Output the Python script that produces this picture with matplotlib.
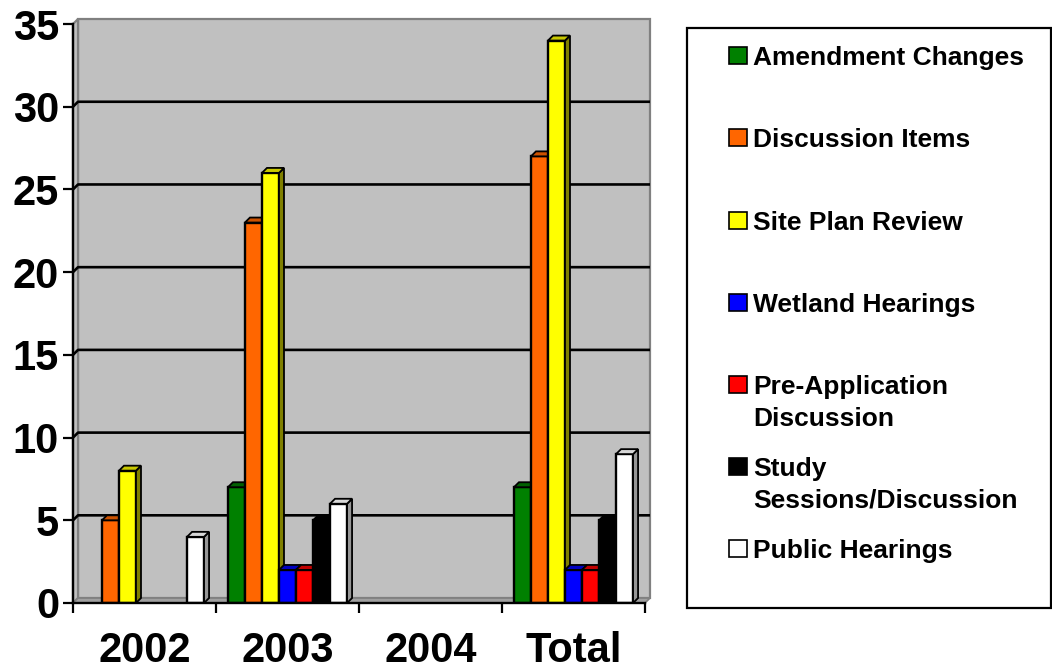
import matplotlib
matplotlib.use("Agg")
import matplotlib.pyplot as plt
from matplotlib.patches import Polygon, Rectangle

plt.rcParams['font.family'] = ['Liberation Sans', 'DejaVu Sans']
plt.rcParams['font.weight'] = 'bold'

# data
categories = ['2002', '2003', '2004', 'Total']
series_names = ['Amendment Changes', 'Discussion Items', 'Site Plan Review',
                'Wetland Hearings', 'Pre-Application\nDiscussion',
                'Study\nSessions/Discussion', 'Public Hearings']
amendment = [0, 7, 0, 7]
discussion = [5, 23, 0, 27]
site_plan = [8, 26, 0, 34]
wetland = [0, 2, 0, 2]
pre_app = [0, 2, 0, 2]
study = [0, 5, 0, 5]
public = [4, 6, 0, 9]
values = [amendment, discussion, site_plan, wetland, pre_app, study, public]

# front, top, side colours for each series
front = ['#008000', '#FF6600', '#FFFF00', '#0000FF', '#FF0000', '#000000', '#FFFFFF']
top = ['#006000', '#CC5200', '#C8C800', '#0000C0', '#C00000', '#000000', '#D8D8D8']
side = ['#004000', '#993D00', '#808000', '#000080', '#800000', '#000000', '#969696']

W, H = 1052, 670
fig = plt.figure(figsize=(W / 100, H / 100), dpi=100)
ax = fig.add_axes([73 / W, 67 / H, 572 / W, 579 / H])
ax.set_xlim(-0.5, 3.5)
ax.set_ylim(0, 35)
ax.patch.set_visible(False)

dx, dy = 0.035, 0.3   # 3d depth in data units

# walls and floor
ax.add_patch(Polygon([(-0.5 + dx, dy), (3.5 + dx, dy), (3.5 + dx, 35 + dy), (-0.5 + dx, 35 + dy)],
                     closed=True, facecolor='#C0C0C0', edgecolor='#808080', lw=1.6,
                     zorder=0, clip_on=False))
ax.add_patch(Polygon([(-0.5, 0), (-0.5 + dx, dy), (-0.5 + dx, 35 + dy), (-0.5, 35)],
                     closed=True, facecolor='#C0C0C0', edgecolor='#808080', lw=1.6,
                     zorder=0, clip_on=False))
ax.add_patch(Polygon([(-0.5, 0), (3.5, 0), (3.5 + dx, dy), (-0.5 + dx, dy)],
                     closed=True, facecolor='#A0A0A0', edgecolor='#808080', lw=1.2,
                     zorder=0.5, clip_on=False))

# gridlines on the back and side wall
for v in range(5, 35, 5):
    ax.plot([-0.5, -0.5 + dx, 3.5 + dx], [v, v + dy, v + dy], color='black',
            lw=1.9, zorder=1, clip_on=False, solid_capstyle='butt')

# bars
w = 0.119
n = len(values)
for j, vals in enumerate(values):
    xs = [i + (j - (n - 1) / 2) * w for i in range(len(categories))]
    xs_nz = [x for x, v in zip(xs, vals) if v > 0]
    vs_nz = [v for v in vals if v > 0]
    ax.bar(xs_nz, vs_nz, width=w, color=front[j], edgecolor='black', lw=1.7,
           zorder=3 + j)
    for x, v in zip(xs_nz, vs_nz):
        x0, x1 = x - w / 2, x + w / 2
        ax.add_patch(Polygon([(x1, 0), (x1 + dx, dy), (x1 + dx, v + dy), (x1, v)],
                             closed=True, facecolor=side[j], edgecolor='black',
                             lw=1.3, zorder=3 + j + 0.5))
        ax.add_patch(Polygon([(x0, v), (x1, v), (x1 + dx, v + dy), (x0 + dx, v + dy)],
                             closed=True, facecolor=top[j], edgecolor='black',
                             lw=1.3, zorder=3 + j + 0.5))

# axes styling
for s in ['top', 'right']:
    ax.spines[s].set_visible(False)
for s in ['left', 'bottom']:
    ax.spines[s].set_linewidth(1.7)
    ax.spines[s].set_zorder(20)
ax.set_yticks(range(0, 36, 5))
ax.tick_params(axis='y', direction='out', length=7, width=1.6, pad=3, labelsize=30)
ax.set_xticks(range(len(categories)))
ax.set_xticklabels(categories)
ax.set_xticks([-0.5, 0.5, 1.5, 2.5, 3.5], minor=True)
ax.tick_params(axis='x', which='major', length=0, pad=20, labelsize=30)
ax.tick_params(axis='x', which='minor', direction='out', length=7, width=1.6)
for lab in ax.get_xticklabels() + ax.get_yticklabels():
    lab.set_fontweight('bold')

# legend box
def fx(px):
    return px / W

def fy(py):
    return 1 - py / H

fig.patches.append(Rectangle((fx(687), fy(608)), fx(1051) - fx(687), fy(28) - fy(608),
                             transform=fig.transFigure, facecolor='white',
                             edgecolor='black', lw=1.6))
label_y = [56, 138, 221, 303, 385, 467, 549]
for j, name in enumerate(series_names):
    yc = label_y[j]
    fig.patches.append(Rectangle((fx(729), fy(yc + 8)), fx(747) - fx(729), fy(yc - 9) - fy(yc + 8),
                                 transform=fig.transFigure, facecolor=front[j],
                                 edgecolor='black', lw=1.2))
    fig.text(fx(753), fy(yc - 10), name, ha='left', va='top', fontsize=19,
             fontweight='bold', linespacing=1.4)

fig.savefig('out.png', dpi=100)
